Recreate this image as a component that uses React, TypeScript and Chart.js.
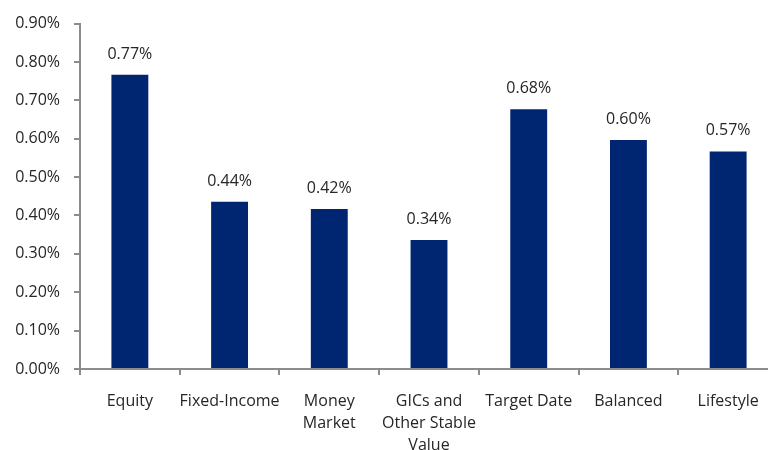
import React, { useEffect, useRef } from "react";
import { Chart, registerables } from "chart.js";

Chart.register(...registerables);

const categories: (string | string[])[] = [
  "Equity",
  "Fixed-Income",
  ["Money", "Market"],
  ["GICs and", "Other Stable", "Value"],
  "Target Date",
  "Balanced",
  "Lifestyle",
];
const values: number[] = [0.767, 0.436, 0.417, 0.336, 0.677, 0.597, 0.567];
const valueLabels: string[] = ["0.77%", "0.44%", "0.42%", "0.34%", "0.68%", "0.60%", "0.57%"];

const FONT = "'Open Sans', 'Noto Sans', sans-serif";
const TEXT = "#262626";
const AXIS = "#8c8c8c";
const BAR = "#002671";

const dataLabelPlugin = {
  id: "dataLabels",
  afterDatasetsDraw(chart: any) {
    const ctx = chart.ctx;
    const meta = chart.getDatasetMeta(0);
    ctx.save();
    ctx.font = `16px ${FONT}`;
    ctx.fillStyle = TEXT;
    ctx.textAlign = "center";
    ctx.textBaseline = "alphabetic";
    meta.data.forEach((bar: any, i: number) => {
      ctx.fillText(valueLabels[i], bar.x, bar.y - 16);
    });
    ctx.restore();
  },
};

export default function App() {
  const ref = useRef<HTMLCanvasElement | null>(null);
  useEffect(() => {
    if (!ref.current) return;
    const chart = new Chart(ref.current, {
      type: "bar",
      data: {
        labels: categories,
        datasets: [
          {
            data: values,
            backgroundColor: BAR,
            borderWidth: 0,
            categoryPercentage: 1,
            barPercentage: 0.37,
          },
        ],
      },
      options: {
        animation: false,
        responsive: false,
        maintainAspectRatio: false,
        layout: { padding: { top: 22, right: 2, left: 0, bottom: 0 } },
        plugins: { legend: { display: false }, tooltip: { enabled: false } },
        scales: {
          x: {
            grid: {
              display: true,
              drawOnChartArea: false,
              drawTicks: true,
              tickLength: 6,
              color: AXIS,
              lineWidth: 2,
              offset: true,
            },
            border: { display: true, color: AXIS, width: 2 },
            ticks: {
              color: TEXT,
              font: { family: FONT, size: 16, lineHeight: 1.36 },
              padding: 16,
              maxRotation: 0,
              autoSkip: false,
            },
            afterFit: (s: any) => {
              s.height = 81;
            },
          },
          y: {
            min: 0,
            max: 0.9,
            ticks: {
              stepSize: 0.1,
              color: TEXT,
              font: { family: FONT, size: 16 },
              padding: 14,
              callback: (v: any) => Number(v).toFixed(2) + "%",
            },
            grid: {
              display: true,
              drawOnChartArea: false,
              drawTicks: true,
              tickLength: 6,
              color: AXIS,
              lineWidth: 2,
            },
            border: { display: true, color: AXIS, width: 2 },
            afterFit: (s: any) => {
              s.width = 80;
            },
          },
        },
      },
      plugins: [dataLabelPlugin],
    });
    return () => chart.destroy();
  }, []);

  return (
    <div
      style={{
        position: "fixed",
        left: 0,
        top: 0,
        width: 768,
        height: 450,
        overflow: "hidden",
        background: "#fff",
      }}
    >
      <canvas ref={ref} width={780} height={450} style={{ width: 780, height: 450, display: "block" }} />
    </div>
  );
}
